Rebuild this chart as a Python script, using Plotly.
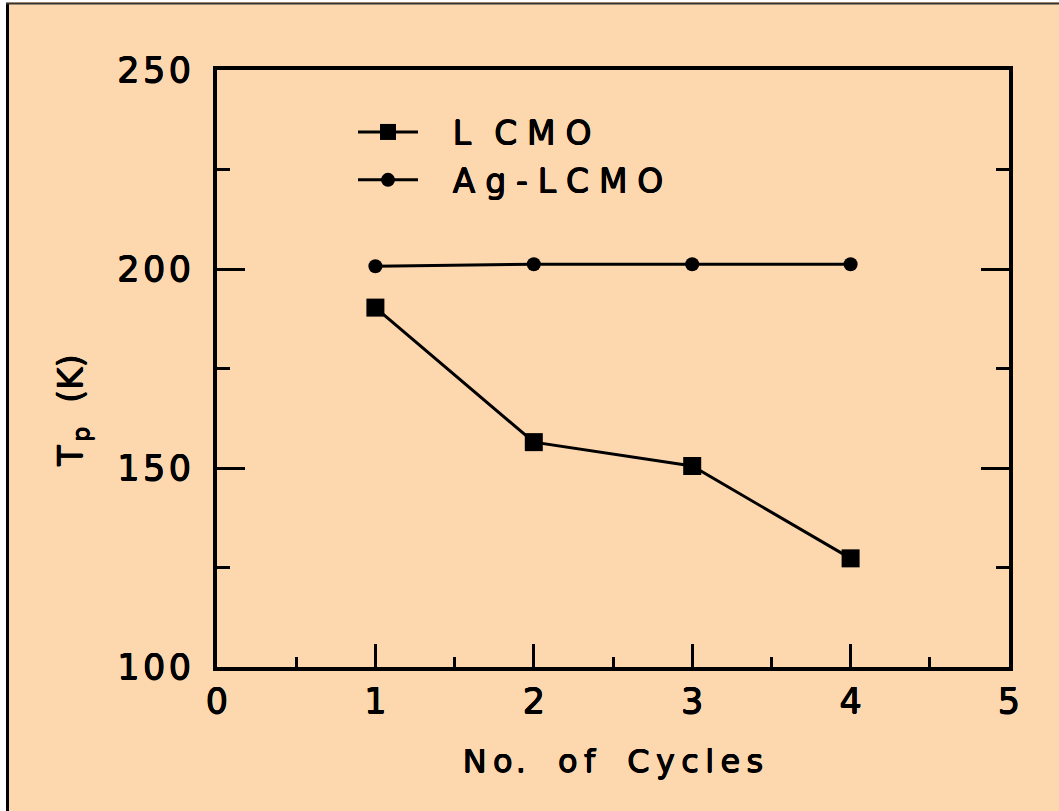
import plotly.graph_objects as go

# Peak temperature vs. number of thermal cycles
cycles = [1, 2, 3, 4]
tp_lcmo = [190.3, 156.5, 150.5, 127.3]
tp_ag_lcmo = [200.7, 201.2, 201.2, 201.2]

x_ticks = [0, 1, 2, 3, 4, 5]
y_ticks = [100, 150, 200, 250]

BG = "#FDD8AF"
INK = "black"
FONT = "DejaVu Sans"
TS = "\u2009"  # thin space used for the wide lettering
HS = "\u200a"  # hair space
EN = "\u2002"  # en space
# slight outline to thicken the strokes of the lettering
HEAVY = "0.5px 0 0 #000, -0.5px 0 0 #000, 0 0.5px 0 #000, 0 -0.5px 0 #000"

W, H = 1059, 811
L, R, T, B = 217, 50, 70, 144
PW, PH = W - L - R, H - T - B


def px(xp):
    return (xp - L) / PW


def py(yp):
    return (H - B - yp) / PH


def spaced(s, sep=TS):
    return sep.join(s)


def lettering(size):
    return dict(family=FONT, size=size, color=INK, shadow=HEAVY)


WIDE = TS + HS
LEAD = EN + TS + TS

fig = go.Figure()
fig.add_trace(go.Scatter(
    x=cycles, y=tp_lcmo, mode="lines+markers",
    name=LEAD + "L" + EN + TS + "C" + WIDE + "M" + WIDE + "O",
    line=dict(color=INK, width=3),
    marker=dict(symbol="square", size=18, color=INK),
    legendgroup="a",
))
fig.add_trace(go.Scatter(
    x=cycles, y=tp_ag_lcmo, mode="lines+markers",
    name=LEAD + spaced("Ag-LCMO", WIDE),
    line=dict(color=INK, width=3),
    marker=dict(symbol="circle", size=14, color=INK),
    legendgroup="b",
))

x_title = ("N" + TS + "o" + HS + "." + EN + EN + "o" + TS + "f" + EN + EN
           + spaced("Cycles", TS))

fig.update_layout(
    width=W, height=H,
    margin=dict(l=L, r=R, t=T, b=B),
    paper_bgcolor=BG, plot_bgcolor=BG,
    font=dict(family=FONT, color=INK, size=32),
    showlegend=True,
    legend=dict(
        x=px(353), y=py(104), xanchor="left", yanchor="top",
        bgcolor="rgba(0,0,0,0)", font=lettering(33),
        traceorder="grouped", tracegroupgap=2, itemwidth=60,
    ),
    xaxis=dict(
        range=[0, 5], tickvals=x_ticks, ticktext=[str(v) for v in x_ticks],
        showgrid=False, zeroline=False,
        showline=True, linecolor=INK, linewidth=4, mirror=True,
        ticks="inside", ticklen=23, tickwidth=3, tickcolor=INK,
        minor=dict(dtick=0.5, ticks="inside", ticklen=10, tickwidth=3, tickcolor=INK),
        tickfont=lettering(35),
        title=dict(text=x_title, font=lettering(32), standoff=31),
    ),
    yaxis=dict(
        range=[100, 250], tickvals=y_ticks,
        ticktext=[spaced(str(v), HS) for v in y_ticks],
        showgrid=False, zeroline=False,
        showline=True, linecolor=INK, linewidth=4, mirror="ticks",
        ticks="inside", ticklen=28, tickwidth=3, tickcolor=INK,
        minor=dict(dtick=25, ticks="inside", ticklen=13, tickwidth=3, tickcolor=INK),
        tickfont=lettering(35),
        ticklabelstandoff=15,
    ),
    annotations=[dict(
        text="T" + HS + "<sub>p</sub>" + EN + TS + "(K)", textangle=-90,
        xref="paper", yref="paper", x=px(72), y=py(411),
        xanchor="center", yanchor="middle", showarrow=False,
        font=lettering(34),
    )],
    shapes=[
        dict(type="rect", xref="paper", yref="paper", layer="above",
             x0=px(0), x1=px(6), y0=py(H), y1=py(0),
             fillcolor="white", line=dict(width=0)),
        dict(type="rect", xref="paper", yref="paper", layer="above",
             x0=px(0), x1=px(W), y0=py(2), y1=py(0),
             fillcolor="white", line=dict(width=0)),
        dict(type="line", xref="paper", yref="paper", layer="above",
             x0=px(7.5), x1=px(7.5), y0=py(H), y1=py(3),
             line=dict(color=INK, width=3)),
        dict(type="line", xref="paper", yref="paper", layer="above",
             x0=px(6), x1=px(W), y0=py(3.5), y1=py(3.5),
             line=dict(color="#333333", width=2)),
    ],
)

fig.write_html("out.html")
